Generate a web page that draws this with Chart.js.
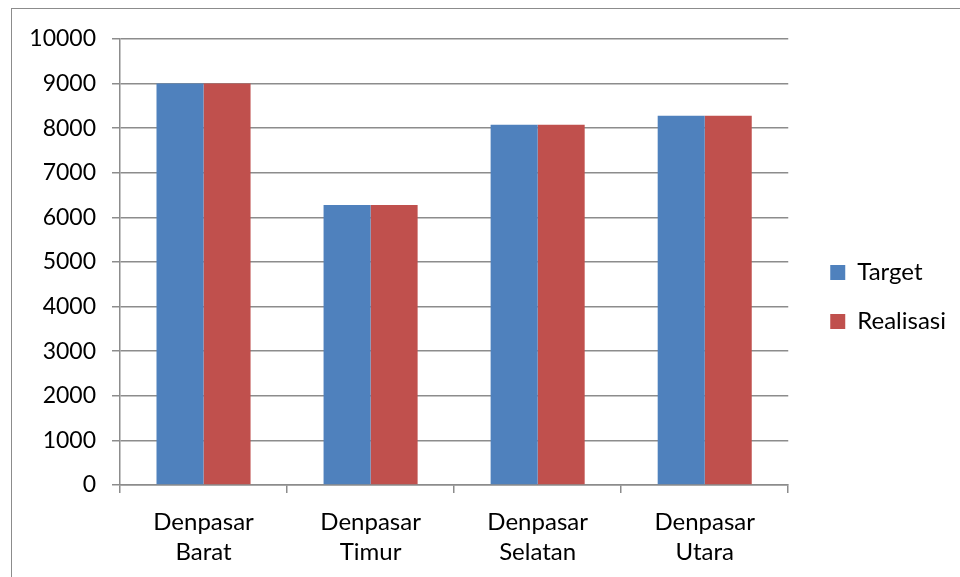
<!DOCTYPE html>
<html>
<head>
<meta charset="utf-8">
<script src="https://cdn.jsdelivr.net/npm/chart.js@4/dist/chart.umd.min.js"></script>
<style>
  html, body { margin: 0; padding: 0; background: #fff; }
  #wrap { position: relative; width: 960px; height: 577px; overflow: hidden; }
  #bingkai { position: absolute; left: 11px; top: 8px; width: 1000px; height: 600px;
             border-left: 1.5px solid #8c8c8c; border-top: 1.5px solid #8c8c8c; pointer-events: none; }
  canvas { position: absolute; left: 0; top: 0; }
</style>
</head>
<body>
<div id="wrap">
  <canvas id="grafik" width="960" height="577"></canvas>
  <div id="bingkai"></div>
</div>
<script>
// data wilayah
const wilayah = [['Denpasar', 'Barat'], ['Denpasar', 'Timur'], ['Denpasar', 'Selatan'], ['Denpasar', 'Utara']];
const target = [9000, 6280, 8075, 8280];
const realisasi = [9000, 6280, 8075, 8280];
const tickY = [0, 1000, 2000, 3000, 4000, 5000, 6000, 7000, 8000, 9000, 10000];

const garis = '#8c8c8c';
const huruf = "Lato, 'Open Sans', sans-serif";

// geser legenda sedikit supaya posisinya sama dengan gambar asli
const geserLegenda = {
    id: 'geserLegenda',
    afterLayout: function(chart) {
        const lg = chart.legend;
        if (!lg) return;
        lg.left += 17; lg.right += 17;
        lg.top -= 11; lg.bottom -= 11;
    }
};

document.addEventListener('DOMContentLoaded', function() {
    const ctx = document.getElementById('grafik').getContext('2d');
    new Chart(ctx, {
        type: 'bar',
        data: {
            labels: wilayah,
            datasets: [
                { label: 'Target', data: target, backgroundColor: '#4F81BD', borderWidth: 0 },
                { label: 'Realisasi', data: realisasi, backgroundColor: '#C0504D', borderWidth: 0 }
            ]
        },
        plugins: [geserLegenda],
        options: {
            responsive: false,
            animation: false,
            layout: { padding: { left: 12, top: 39, right: 21, bottom: 0 } },
            datasets: { bar: { categoryPercentage: 0.563, barPercentage: 1.0 } },
            plugins: {
                tooltip: { enabled: false },
                legend: {
                    position: 'right',
                    labels: {
                        font: { family: huruf, size: 24 },
                        color: '#000',
                        boxWidth: 15,
                        boxHeight: 15,
                        padding: 25
                    }
                }
            },
            scales: {
                x: {
                    offset: true,
                    grid: { offset: true, drawOnChartArea: false, drawTicks: true, tickLength: 8, color: garis, lineWidth: 1.5 },
                    border: { color: garis, width: 1.5 },
                    ticks: { font: { family: huruf, size: 24, lineHeight: 1.25 }, color: '#000', padding: 14, maxRotation: 0 },
                    afterFit: function(s) { s.height = 92; }
                },
                y: {
                    min: 0,
                    max: 10000,
                    afterBuildTicks: function(s) { s.ticks = tickY.map(v => ({ value: v })); },
                    grid: { color: garis, lineWidth: 1.5, tickLength: 8 },
                    border: { color: garis, width: 1.5 },
                    ticks: { font: { family: huruf, size: 23 }, color: '#000', padding: 16, callback: v => String(v) },
                    afterFit: function(s) { s.width = 108; }
                }
            }
        }
    });
});
</script>
</body>
</html>
